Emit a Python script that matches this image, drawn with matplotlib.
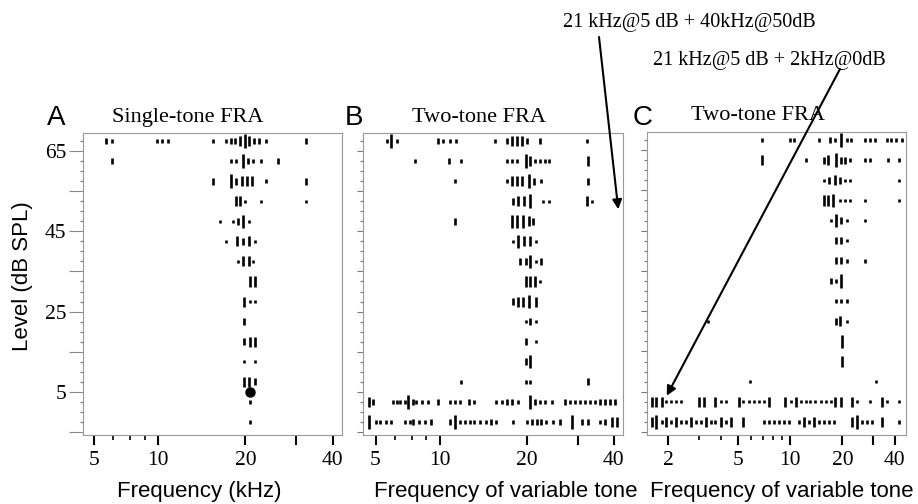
import matplotlib
matplotlib.use("Agg")
import matplotlib.pyplot as plt
from matplotlib.ticker import FixedLocator, FixedFormatter, NullFormatter, MultipleLocator

plt.rcParams["font.family"] = ["Liberation Serif", "DejaVu Serif"]

# rows of the frequency-response-area rasters: level (dB SPL) -> [(freq kHz, spike count)]
rows_a = {
    67.5: [(6.6, 2), (6.9, 1), (9.9, 1), (10.3, 1), (10.8, 1), (15.5, 1), (17.1, 1), (17.9, 2),
           (18.4, 2), (19.1, 3), (19.9, 4), (20.6, 3), (21.4, 2), (22.2, 2), (23.6, 1), (32.4, 2)],
    62.5: [(6.9, 2), (17.9, 1), (18.6, 1), (19.6, 4), (20.4, 2), (21.2, 1), (22.6, 1), (25.9, 2)],
    57.5: [(15.5, 2), (17.9, 4), (18.6, 2), (19.4, 3), (20.2, 3), (21.0, 3), (23.6, 1), (32.4, 2)],
    52.5: [(18.5, 3), (19.1, 3), (20.0, 1), (22.7, 1), (32.4, 1)],
    47.5: [(16.4, 1), (18.1, 1), (18.8, 2), (19.6, 4), (20.5, 1)],
    42.5: [(17.2, 1), (18.7, 3), (19.6, 2), (20.6, 3), (21.5, 1)],
    37.5: [(18.9, 1), (19.6, 3), (20.6, 3), (21.3, 1)],
    32.5: [(20.7, 3), (21.5, 3)],
    27.5: [(19.8, 3), (20.8, 1), (21.6, 1)],
    22.5: [(19.8, 2)],
    17.5: [(19.8, 2), (20.7, 3), (21.5, 3)],
    12.5: [(19.8, 1), (21.5, 1)],
    7.5: [(19.8, 3), (20.6, 3), (21.5, 2)],
    2.5: [(20.7, 1)],
    -2.5: [(20.7, 1)],
}
best_freq_a = [20.8]
best_level_a = [5]

rows_b = {
    67.5: [(6.6, 1), (6.8, 4), (7.1, 1), (9.9, 2), (10.3, 1), (10.9, 1), (11.4, 1), (15.5, 1),
           (17.1, 2), (17.8, 3), (18.5, 3), (19.2, 3), (20.0, 2), (22.2, 2), (32.3, 1)],
    62.5: [(8.2, 1), (10.8, 2), (11.9, 1), (17.1, 1), (17.8, 1), (18.5, 1), (19.9, 4), (20.5, 3),
           (21.3, 1), (22.2, 1), (23.1, 1), (23.9, 1), (32.5, 3)],
    57.5: [(11.3, 1), (17.1, 1), (17.8, 3), (18.5, 3), (19.2, 3), (20.3, 4), (21.2, 2), (22.5, 1),
           (32.5, 2)],
    52.5: [(17.9, 2), (18.7, 3), (19.6, 3), (20.5, 4), (22.7, 1), (23.9, 1), (32.3, 3), (33.8, 1)],
    47.5: [(11.3, 2), (17.8, 4), (18.5, 4), (19.4, 4), (20.3, 3), (21.1, 2)],
    42.5: [(17.9, 1), (18.7, 4), (19.6, 3), (20.5, 3), (21.6, 1)],
    37.5: [(19.0, 2), (19.9, 2), (20.5, 4), (21.6, 1), (22.5, 2)],
    32.5: [(19.9, 3), (20.5, 3), (21.3, 3), (22.2, 1)],
    27.5: [(18.0, 2), (18.7, 3), (19.5, 3), (20.4, 4), (21.6, 3)],
    22.5: [(19.9, 1), (20.5, 2), (21.6, 1)],
    17.5: [(19.9, 2), (21.6, 1)],
    12.5: [(19.9, 2), (20.6, 4)],
    7.5: [(11.9, 1), (19.9, 1), (20.5, 1), (32.5, 2)],
    2.5: [(5.7, 3), (5.9, 2), (6.9, 1), (7.1, 1), (7.3, 1), (7.6, 1), (7.8, 4), (8.1, 2), (8.3, 1),
          (8.7, 1), (9.1, 1), (9.9, 2), (10.9, 1), (11.3, 1), (11.8, 1), (12.6, 2), (13.1, 1),
          (15.7, 1), (16.4, 1), (17.1, 2), (17.8, 2), (18.7, 1), (20.5, 4), (21.3, 2), (22.2, 1),
          (23.1, 1), (24.4, 1), (27.1, 2), (28.2, 1), (29.4, 1), (30.6, 1), (31.8, 1), (33.1, 1),
          (34.5, 1), (35.9, 2), (37.3, 2), (38.8, 2), (40.4, 2)],
    -2.5: [(5.7, 4), (6.0, 1), (6.2, 1), (6.5, 1), (6.8, 1), (7.6, 1), (7.9, 1), (8.1, 2), (8.5, 1),
           (8.9, 1), (9.3, 2), (10.9, 2), (11.3, 4), (11.8, 1), (12.2, 1), (12.7, 1), (13.2, 1),
           (13.8, 1), (14.5, 1), (15.1, 2), (15.7, 1), (18.0, 1), (20.0, 1), (20.8, 2), (21.7, 2),
           (22.5, 2), (23.4, 1), (24.7, 1), (26.1, 2), (28.6, 4), (31.0, 2), (32.7, 2), (35.9, 1),
           (37.3, 2), (39.4, 3), (41.0, 3)],
}

rows_c = {
    67.5: [(6.9, 1), (10.0, 1), (10.5, 1), (14.7, 1), (16.9, 2), (18.1, 1), (19.7, 4), (21.1, 1),
           (22.5, 1), (26.8, 1), (28.7, 1), (30.6, 1), (35.8, 1), (38.2, 1), (40.8, 1), (44.2, 1)],
    62.5: [(6.9, 3), (12.4, 1), (15.6, 2), (16.5, 3), (18.3, 4), (19.6, 2), (20.6, 2), (22.0, 1),
           (26.8, 1), (28.7, 1), (36.5, 1), (42.2, 1)],
    57.5: [(15.6, 1), (16.7, 2), (18.1, 3), (19.3, 2), (20.6, 1), (22.0, 1), (42.2, 1)],
    52.5: [(15.6, 3), (16.5, 3), (17.7, 4), (19.3, 1), (20.6, 1), (22.0, 1), (26.8, 1), (42.2, 1)],
    47.5: [(17.1, 1), (18.3, 4), (19.7, 2), (21.1, 1), (26.8, 1)],
    42.5: [(18.3, 2), (19.5, 2), (21.1, 1)],
    37.5: [(18.3, 2), (19.5, 2), (21.1, 1), (26.8, 1)],
    32.5: [(17.1, 2), (18.3, 1), (19.7, 4)],
    27.5: [(18.3, 1), (19.7, 1), (21.2, 1)],
    22.5: [(3.4, 1), (18.3, 2), (19.3, 3), (21.1, 1)],
    17.5: [(20.0, 4)],
    12.5: [(20.0, 3)],
    7.5: [(5.9, 1), (31.3, 1)],
    2.5: [(1.62, 3), (1.71, 3), (1.83, 3), (1.94, 1), (2.06, 1), (2.21, 1), (2.36, 1), (3.0, 3),
          (3.2, 3), (3.7, 3), (4.0, 1), (4.3, 1), (5.1, 3), (5.4, 1), (5.8, 1), (6.2, 1), (6.6, 1),
          (7.1, 1), (7.6, 3), (9.4, 3), (10.1, 1), (10.8, 3), (11.5, 1), (12.3, 1), (13.1, 1),
          (14.0, 1), (15.0, 1), (16.0, 1), (17.1, 1), (18.2, 3), (19.5, 3), (22.7, 3), (24.3, 1),
          (28.9, 1), (33.7, 3), (36.0, 1), (42.1, 1)],
    -2.5: [(1.62, 3), (1.71, 4), (1.83, 1), (1.94, 3), (2.06, 1), (2.21, 3), (2.36, 1), (2.52, 1),
           (2.69, 3), (2.87, 1), (3.07, 1), (3.28, 3), (3.5, 1), (3.7, 1), (3.99, 3), (4.3, 1),
           (4.56, 3), (5.4, 3), (7.1, 1), (7.6, 1), (8.1, 1), (8.6, 1), (9.2, 1), (9.8, 1),
           (11.2, 1), (12.0, 3), (12.8, 1), (13.7, 3), (14.6, 1), (15.6, 1), (16.7, 1), (17.8, 1),
           (22.7, 3), (24.3, 4), (25.9, 1), (27.7, 1), (29.6, 1), (33.7, 3), (42.1, 1)],
}

W, H = 918, 504
fig = plt.figure(figsize=(W / 100, H / 100), dpi=100)


def px_axes(left, top, right, bottom):
    return fig.add_axes([left / W, 1 - bottom / H, (right - left) / W, (bottom - top) / H])


def draw_raster(ax, rows):
    for level, marks in rows.items():
        freqs = [m[0] for m in marks]
        counts = [m[1] for m in marks]
        ax.vlines(freqs, [level - 0.42 * c for c in counts], [level + 0.42 * c for c in counts],
                  color="black", lw=1.9)


def style(ax, xlim, majors, labels, minors, ylabels):
    ax.set_xscale("log")
    ax.set_xlim(*xlim)
    ax.set_ylim(-5.75, 69.5)
    ax.xaxis.set_major_locator(FixedLocator(majors))
    ax.xaxis.set_major_formatter(FixedFormatter(labels))
    ax.xaxis.set_minor_locator(FixedLocator(minors))
    ax.xaxis.set_minor_formatter(NullFormatter())
    ax.tick_params(axis="x", which="major", length=7.2, width=1.5, color="black",
                   labelsize=15.5, pad=4)
    ax.tick_params(axis="x", which="minor", length=3.6, width=1.2, color="black")
    ax.yaxis.set_major_locator(FixedLocator([-5, 5, 15, 25, 35, 45, 55, 65]))
    ax.yaxis.set_minor_locator(MultipleLocator(2.5))
    if ylabels:
        ax.yaxis.set_major_formatter(FixedFormatter(["", "5", "", "25", "", "45", "", "65"]))
        ax.tick_params(axis="y", which="major", length=10, width=0.8, color="#888888",
                       labelsize=15.5, pad=2)
    else:
        ax.yaxis.set_major_formatter(NullFormatter())
        ax.tick_params(axis="y", which="major", length=4, width=0.8, color="#777777")
    ax.tick_params(axis="y", which="minor", length=2.5, width=0.8, color="#777777")
    for sp in ax.spines.values():
        sp.set_color("#999999")
        sp.set_linewidth(0.8)


axA = px_axes(83, 133, 342, 435)
axB = px_axes(363, 133, 623, 435)
axC = px_axes(647, 132, 906, 435)

draw_raster(axA, rows_a)
axA.plot(best_freq_a, best_level_a, "o", color="black", ms=6.5)
draw_raster(axB, rows_b)
draw_raster(axC, rows_c)

style(axA, (5.5, 43.1), [6, 10, 20, 30, 40], ["5", "10", "20", "", "40"], [7, 8, 9], True)
style(axB, (5.43, 43.1), [6, 10, 20, 30, 40], ["5", "10", "20", "", "40"], [7, 8, 9], False)
style(axC, (1.51, 46.3), [2, 5, 10, 20, 30, 40], ["2", "5", "10", "20", "", "40"],
      [3, 4, 6, 7, 8, 9], False)

axA.text(0.403, 1.037, "Single-tone FRA", transform=axA.transAxes, ha="center", va="baseline",
         fontsize=16)
axB.text(0.446, 1.037, "Two-tone FRA", transform=axB.transAxes, ha="center", va="baseline",
         fontsize=16)
axC.text(0.429, 1.04, "Two-tone FRA", transform=axC.transAxes, ha="center", va="baseline",
         fontsize=16)

sans = ["Liberation Sans", "DejaVu Sans"]
for letter, x in [("A", 46.7), ("B", 345), ("C", 633)]:
    fig.text(x / W, 1 - 125 / H, letter, family=sans, fontsize=20, va="baseline")

fig.text(23 / W, 1 - 276 / H, "Level (dB SPL)", family=sans, fontsize=16, rotation=90,
         ha="center", va="center")
fig.text(199 / W, 1 - 497 / H, "Frequency (kHz)", family=sans, fontsize=16, ha="center",
         va="baseline")
fig.text(505.8 / W, 1 - 497 / H, "Frequency of variable tone", family=sans, fontsize=16,
         ha="center", va="baseline")
fig.text(782 / W, 1 - 497 / H, "Frequency of variable tone", family=sans, fontsize=16,
         ha="center", va="baseline")

fig.text(689 / W, 1 - 23 / H, "21 kHz@5 dB + 40kHz@50dB", fontsize=14.5, ha="center", va="center")
fig.text(769 / W, 1 - 60 / H, "21 kHz@5 dB + 2kHz@0dB", fontsize=14.5, ha="center", va="center")

arrow = dict(arrowstyle="-|>", color="black", lw=1.5, mutation_scale=14, shrinkA=0, shrinkB=0)
axB.annotate("", xy=(41.5, 50.5), xycoords="data", xytext=(599, H - 37),
             textcoords="figure pixels", arrowprops=arrow, annotation_clip=False)
axC.annotate("", xy=(1.96, 4.0), xycoords="data", xytext=(840, H - 69),
             textcoords="figure pixels", arrowprops=arrow, annotation_clip=False)

fig.savefig("out.png", dpi=100)
